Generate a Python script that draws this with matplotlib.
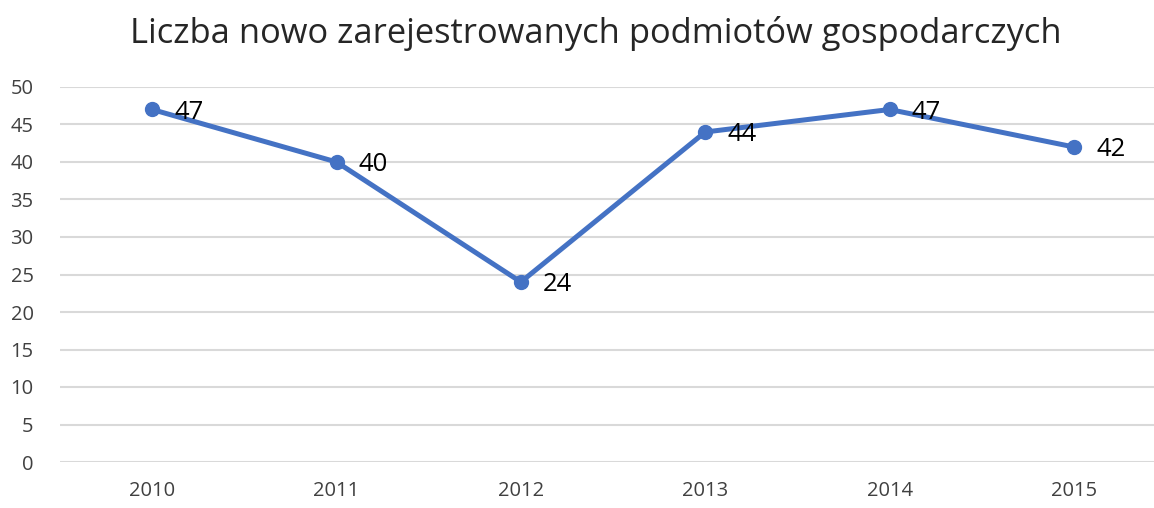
import matplotlib.pyplot as plt

years = ["2010", "2011", "2012", "2013", "2014", "2015"]
counts = [47, 40, 24, 44, 47, 42]
y_ticks = [0, 5, 10, 15, 20, 25, 30, 35, 40, 45, 50]

plt.rcParams['font.family'] = ['Open Sans', 'DejaVu Sans']

fig = plt.figure(figsize=(11.54, 5.08), dpi=100)
ax = fig.add_axes([60 / 1154, 46 / 508, 1094 / 1154, 375 / 508])

x = list(range(len(years)))
ax.plot(x, counts, color="#4472C4", linewidth=3.6, marker="o", markersize=10,
        solid_capstyle="round", zorder=3)
for xi, v in zip(x, counts):
    ax.annotate(str(v), (xi, v), xytext=(16, -2), textcoords="offset points",
                ha="left", va="center", fontsize=18.5, color="black")

ax.set_xlim(-0.5, 5.434)
ax.set_ylim(0, 50)
ax.set_yticks(y_ticks)
ax.set_xticks(x)
ax.set_xticklabels(years)
ax.tick_params(axis="both", length=0, labelsize=14.5, labelcolor="#404040")
ax.tick_params(axis="y", pad=19)
ax.tick_params(axis="x", pad=14)
ax.yaxis.grid(True, color="#D9D9D9", linewidth=1.5)
ax.set_axisbelow(True)
for s in ax.spines.values():
    s.set_visible(False)

fig.text(0.516, 0.935, "Liczba nowo zarejestrowanych podmiotów gospodarczych",
         ha="center", va="center", fontsize=24.8, color="#262626")

fig.savefig("out.png", dpi=100)
